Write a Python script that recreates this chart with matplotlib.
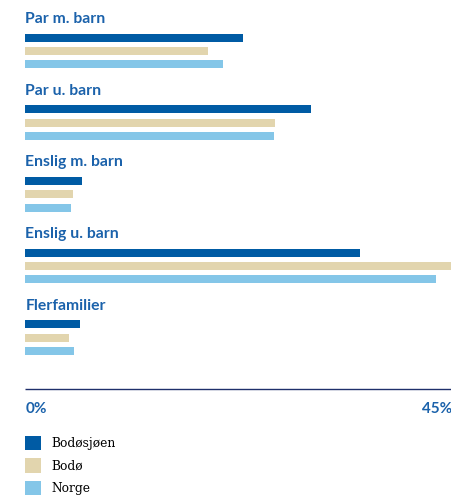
import matplotlib.pyplot as plt
from matplotlib.patches import Patch

# Husholdningstyper, andel i prosent
categories = ["Par m. barn", "Par u. barn", "Enslig m. barn", "Enslig u. barn", "Flerfamilier"]
series_names = ["Bodøsjøen", "Bodø", "Norge"]
bodosjoen = [23.0, 30.1, 6.0, 35.3, 5.8]
bodo = [19.3, 26.3, 5.0, 45.0, 4.6]
norge = [20.9, 26.2, 4.8, 43.3, 5.1]
x_ticks = [0, 45]
x_tick_labels = ["0%", "45%"]

colors = ["#005ba4", "#e2d5ae", "#84c6e8"]
title_color = "#1b62ab"
axis_color = "#1f2f6b"

W, H = 452, 498
fig = plt.figure(figsize=(W / 100, H / 100), dpi=100)
left = 25.3 / W
ax = fig.add_axes([left, 0, 1 - left, 1])
ax.set_xlim(0, 45)
ax.set_ylim(H, 0)  # y in pixels from top
ax.axis("off")

first_bar_y = 37.5
group_step = 71.7
bar_step = 13.4
bar_h = 8

for i, cat in enumerate(categories):
    y0 = first_bar_y + i * group_step
    ax.text(0, y0 - 18.5, cat, fontsize=11.3, fontweight="bold", family="Lato",
            color=title_color, ha="left", va="center")
    for j, vals in enumerate([bodosjoen, bodo, norge]):
        ax.barh(y0 + j * bar_step, vals[i], height=bar_h, left=0,
                color=colors[j], linewidth=0)

ax.hlines(389, 0, 45, color=axis_color, linewidth=1.0, clip_on=False)
for t, lab in zip(x_ticks, x_tick_labels):
    ax.text(t, 408.5, lab, fontsize=11, fontweight="bold", family="Lato",
            color=title_color, ha="left" if t == 0 else "right", va="center")

handles = [Patch(facecolor=c, edgecolor="none", label=n) for c, n in zip(colors, series_names)]
fig.legend(handles=handles, loc="upper left", bbox_to_anchor=(25 / W, 1 - 435.5 / H),
           frameon=False, borderpad=0, borderaxespad=0,
           prop={"family": "DejaVu Serif", "size": 8.8},
           handlelength=1.3, handleheight=1.4, handletextpad=0.85, labelspacing=0.72)

fig.savefig("out.png", dpi=100)
